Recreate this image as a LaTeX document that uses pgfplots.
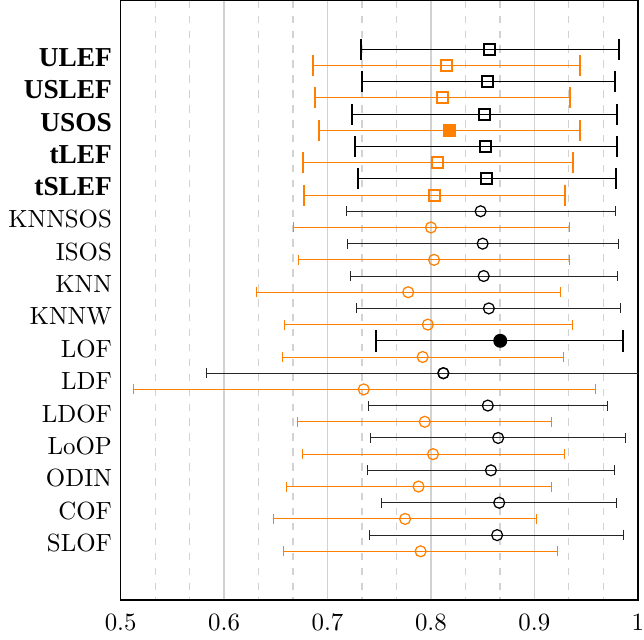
\documentclass[border=0pt]{standalone}
\usepackage{fontspec}
\usepackage{pgfplots}
\pgfplotsset{compat=1.18}
\newfontfamily\tms{Liberation Serif}
\definecolor{myorange}{RGB}{255,128,0}
\newcommand{\bl}[1]{{\tms\bfseries\fontsize{11}{13}\selectfont #1}}

\begin{document}
\begin{tikzpicture}
\begin{axis}[
  scale only axis,
  width=208pt, height=241pt,
  xmin=0.5, xmax=1.0,
  ymin=-3, ymax=34,
  y dir=reverse,
  xtick={0.5,0.6,0.7,0.8,0.9,1},
  xticklabels={0.5,0.6,0.7,0.8,0.9,1},
  minor x tick num=2,
  ytick={0.5,2.5,4.5,6.5,8.5,10.5,12.5,14.5,16.5,18.5,20.5,22.5,24.5,26.5,28.5,30.5},
  yticklabels={\bl{ULEF},\bl{USLEF},\bl{USOS},\bl{tLEF},\bl{tSLEF},KNNSOS,ISOS,KNN,KNNW,LOF,LDF,LDOF,LoOP,ODIN,COF,SLOF},
  xmajorgrids, xminorgrids,
  major grid style={gray!35, line width=0.5pt},
  minor grid style={gray!35, dashed, line width=0.5pt},
  tick style={draw=none},
  xticklabel style={yshift=-2pt, inner xsep=0pt},
  axis line style={line width=0.6pt},
  error bars/error bar style={solid},
]
% bold methods, black
\addplot[black, line width=0.8pt, only marks, mark=square, mark size=2.2pt,
  error bars/.cd, x dir=both, x explicit,
  error mark options={rotate=90, black, line width=0.8pt, mark size=4.2pt}]
  table[x=x, y=y, x error minus=m, x error plus=p] {
x     y  m     p
0.857 0  0.125 0.125
0.855 2  0.122 0.123
0.852 4  0.128 0.128
0.853 6  0.126 0.127
0.854 8  0.125 0.125
};
% bold methods, orange
\addplot[myorange, line width=0.8pt, only marks, mark=square, mark size=2.2pt,
  error bars/.cd, x dir=both, x explicit,
  error mark options={rotate=90, myorange, line width=0.8pt, mark size=4.2pt}]
  table[x=x, y=y, x error minus=m, x error plus=p] {
x     y  m     p
0.815 1  0.129 0.129
0.811 3  0.123 0.123
0.806 7  0.130 0.131
0.803 9  0.126 0.127
};
\addplot[myorange, line width=0.8pt, only marks, mark=square*, mark size=2.3pt,
  error bars/.cd, x dir=both, x explicit,
  error mark options={rotate=90, myorange, line width=0.8pt, mark size=4.2pt}]
  table[x=x, y=y, x error minus=m, x error plus=p] {
x     y  m     p
0.818 5  0.126 0.126
};
% other methods, black
\addplot[black!85, line width=0.4pt, only marks, mark=o, mark size=2.2pt,
  mark options={black, line width=0.5pt},
  error bars/.cd, x dir=both, x explicit,
  error mark options={rotate=90, black!85, line width=0.4pt, mark size=2pt}]
  table[x=x, y=y, x error minus=m, x error plus=p] {
x     y   m     p
0.848 10  0.130 0.130
0.850 12  0.131 0.131
0.851 14  0.129 0.129
0.856 16  0.128 0.127
0.855 22  0.115 0.116
0.865 24  0.123 0.123
0.858 26  0.119 0.119
0.866 28  0.114 0.113
0.864 30  0.123 0.122
};
% LDF: the upper end runs past the axis, so no cap there
\addplot[black!85, line width=0.4pt, only marks, mark=o, mark size=2.2pt,
  mark options={black, line width=0.5pt},
  error bars/.cd, x dir=plus, x explicit, error mark=none]
  table[x=x, y=y, x error plus=p] {
x     y   p
0.812 20  0.188
};
\addplot[black!85, line width=0.4pt, only marks, mark=o, mark size=2.2pt,
  mark options={black, line width=0.5pt},
  error bars/.cd, x dir=minus, x explicit,
  error mark options={rotate=90, black!85, line width=0.4pt, mark size=2pt}]
  table[x=x, y=y, x error minus=m] {
x     y   m
0.812 20  0.229
};
% LOF
\addplot[black, line width=0.8pt, only marks, mark=*, mark size=2.4pt,
  error bars/.cd, x dir=both, x explicit,
  error mark options={rotate=90, black, line width=0.8pt, mark size=4.4pt}]
  table[x=x, y=y, x error minus=m, x error plus=p] {
x     y   m     p
0.867 18  0.120 0.119
};
% other methods, orange
\addplot[myorange, line width=0.4pt, only marks, mark=o, mark size=2.2pt,
  mark options={line width=0.5pt},
  error bars/.cd, x dir=both, x explicit,
  error mark options={rotate=90, myorange, line width=0.4pt, mark size=2pt}]
  table[x=x, y=y, x error minus=m, x error plus=p] {
x     y   m     p
0.800 11  0.133 0.134
0.803 13  0.131 0.131
0.778 15  0.147 0.147
0.797 17  0.139 0.140
0.792 19  0.136 0.136
0.735 21  0.223 0.224
0.794 23  0.123 0.123
0.802 25  0.126 0.127
0.788 27  0.128 0.129
0.775 29  0.127 0.127
0.790 31  0.133 0.132
};
\end{axis}
\end{tikzpicture}
\end{document}
